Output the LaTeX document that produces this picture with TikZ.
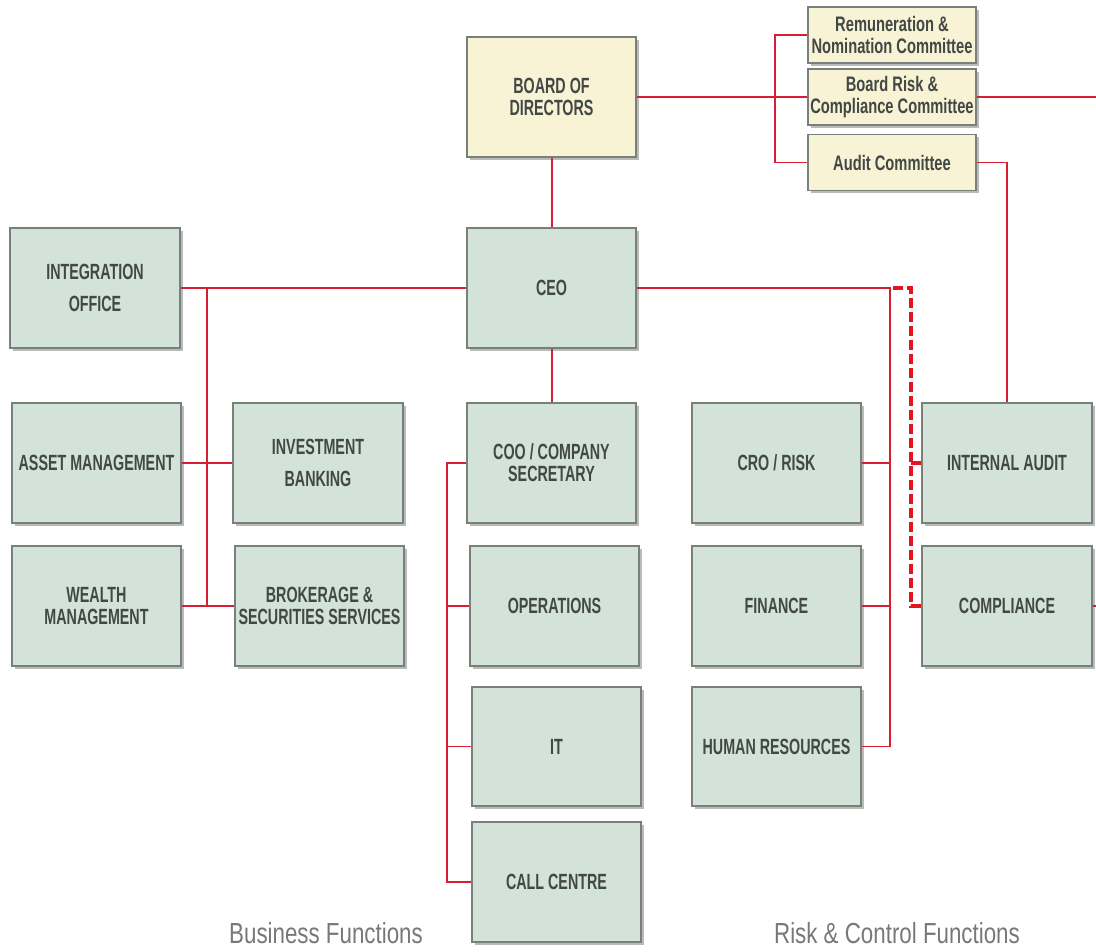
\documentclass[tikz,border=0pt]{standalone}
\usepackage{fontspec}
\usetikzlibrary{shadows}
\newfontfamily\boxfont[FakeStretch=0.65]{Liberation Sans}
\newfontfamily\comfont[FakeStretch=0.70]{Liberation Sans}
\newfontfamily\labfont[FakeStretch=0.77]{Liberation Sans}
\definecolor{boxfill}{RGB}{211,227,217}
\definecolor{boardfill}{RGB}{249,243,214}
\definecolor{boxline}{RGB}{120,128,122}
\definecolor{txt}{RGB}{66,72,68}
\definecolor{conn}{RGB}{214,30,52}
\definecolor{dconn}{RGB}{228,20,30}
\definecolor{labgray}{RGB}{120,120,120}
\tikzset{
  base/.style={draw=boxline, line width=1.2pt, align=center, inner sep=0pt,
    font=\boxfont\bfseries\fontsize{22}{22}\selectfont, text=txt,
    drop shadow={shadow xshift=2.5pt, shadow yshift=-3pt, fill=black!45, opacity=0.6}},
  gbox/.style={base, fill=boxfill, minimum width=170pt, minimum height=120pt},
  ybox/.style={base, fill=boardfill, minimum width=169pt, minimum height=120pt},
  cbox/.style={base, fill=boardfill, minimum width=168pt, minimum height=56pt,
    font=\comfont\bfseries\fontsize{21}{21}\selectfont},
  link/.style={draw=conn, line width=1.3pt},
  dlink/.style={draw=dconn, line width=3.4pt, dash pattern=on 10pt off 4pt},
  lab/.style={font=\labfont\fontsize{29}{30}\selectfont, text=labgray, anchor=base}
}
\begin{document}
\begin{tikzpicture}[x=1pt,y=-1pt]
\useasboundingbox (0,0) rectangle (1096,952);
% top
\node[ybox] (board) at (551.5,97) {BOARD OF\\[0pt]DIRECTORS};
\node[cbox] (rem) at (892,35) {Remuneration \&\\[1pt]Nomination Committee};
\node[cbox] (brc) at (892,97) {Board Risk \&\\[1pt]Compliance Committee};
\node[cbox] (aud) at (892,162.5) {Audit Committee};
% second row
\node[gbox] (integ) at (95,288) {INTEGRATION\\[10pt]OFFICE};
\node[gbox, minimum width=169pt] (ceo) at (551.5,288) {CEO};
% business functions
\node[gbox, minimum width=169pt] (asset) at (96.5,463) {ASSET MANAGEMENT};
\node[gbox] (invest) at (318,463) {INVESTMENT\\[10pt]BANKING};
\node[gbox, minimum width=169pt] (wealth) at (96.5,606) {WEALTH\\[0pt]MANAGEMENT};
\node[gbox, minimum width=169pt] (broker) at (319.5,606) {BROKERAGE \&\\[0pt]SECURITIES SERVICES};
% middle column
\node[gbox, minimum width=169pt] (coo) at (551.5,463) {COO / COMPANY\\[0pt]SECRETARY};
\node[gbox, minimum width=169pt] (ops) at (554.5,606) {OPERATIONS};
\node[gbox, minimum width=169pt, minimum height=119pt] (it) at (556.5,746.5) {IT};
\node[gbox, minimum width=169pt] (call) at (556.5,882) {CALL CENTRE};
% risk column
\node[gbox, minimum width=169pt] (cro) at (776.5,463) {CRO / RISK};
\node[gbox, minimum width=169pt] (fin) at (776.5,606) {FINANCE};
\node[gbox, minimum width=169pt, minimum height=119pt] (hr) at (776.5,746.5) {HUMAN RESOURCES};
\node[gbox] (ia) at (1007,463) {INTERNAL AUDIT};
\node[gbox] (comp) at (1007,606) {COMPLIANCE};
% labels
\node[lab] (lbus) at (326,943) {Business Functions};
\node[lab] (lrisk) at (897,943) {Risk \& Control Functions};
% coordinates
\coordinate (busT) at (775,97);
\coordinate (edgeT) at (1096,97);
\coordinate (busL) at (207,288);
\coordinate (busC) at (447,463);
\coordinate (busR) at (890,288);
\coordinate (dT) at (911,288);
\coordinate (edgeC) at (1096,606);
% connectors
\draw[link] ([xshift=0.5pt]board.south) -- ([xshift=0.5pt]ceo.north);
\draw[link] (board.east) -- (brc.west);
\draw[link] (rem.west) -| (busT) |- (aud.west);
\draw[link] (brc.east) -- (edgeT);
\draw[link] (aud.east) -| (ia.north);
\draw[link] (ceo.west) -- (integ.east);
\draw[link] (busL) -- (busL |- wealth.east);
\draw[link] (asset.east) -- (invest.west);
\draw[link] (wealth.east) -- (broker.west);
\draw[link] ([xshift=0.5pt]ceo.south) -- ([xshift=0.5pt]coo.north);
\draw[link] (coo.west) -- (busC) |- (call.west);
\draw[link] (busC |- ops.west) -- (ops.west);
\draw[link] (busC |- it.west) -- (it.west);
\draw[link] (ceo.east) -- (busR) |- (hr.east);
\draw[link] (cro.east) -- (cro.east -| busR);
\draw[link] (fin.east) -- (fin.east -| busR);
\draw[dlink] ([xshift=3pt]busR) -- (dT) |- (comp.west);
\draw[dlink] (dT |- ia.west) -- (ia.west);
\draw[link] (comp.east) -- (edgeC);
\end{tikzpicture}
\end{document}
